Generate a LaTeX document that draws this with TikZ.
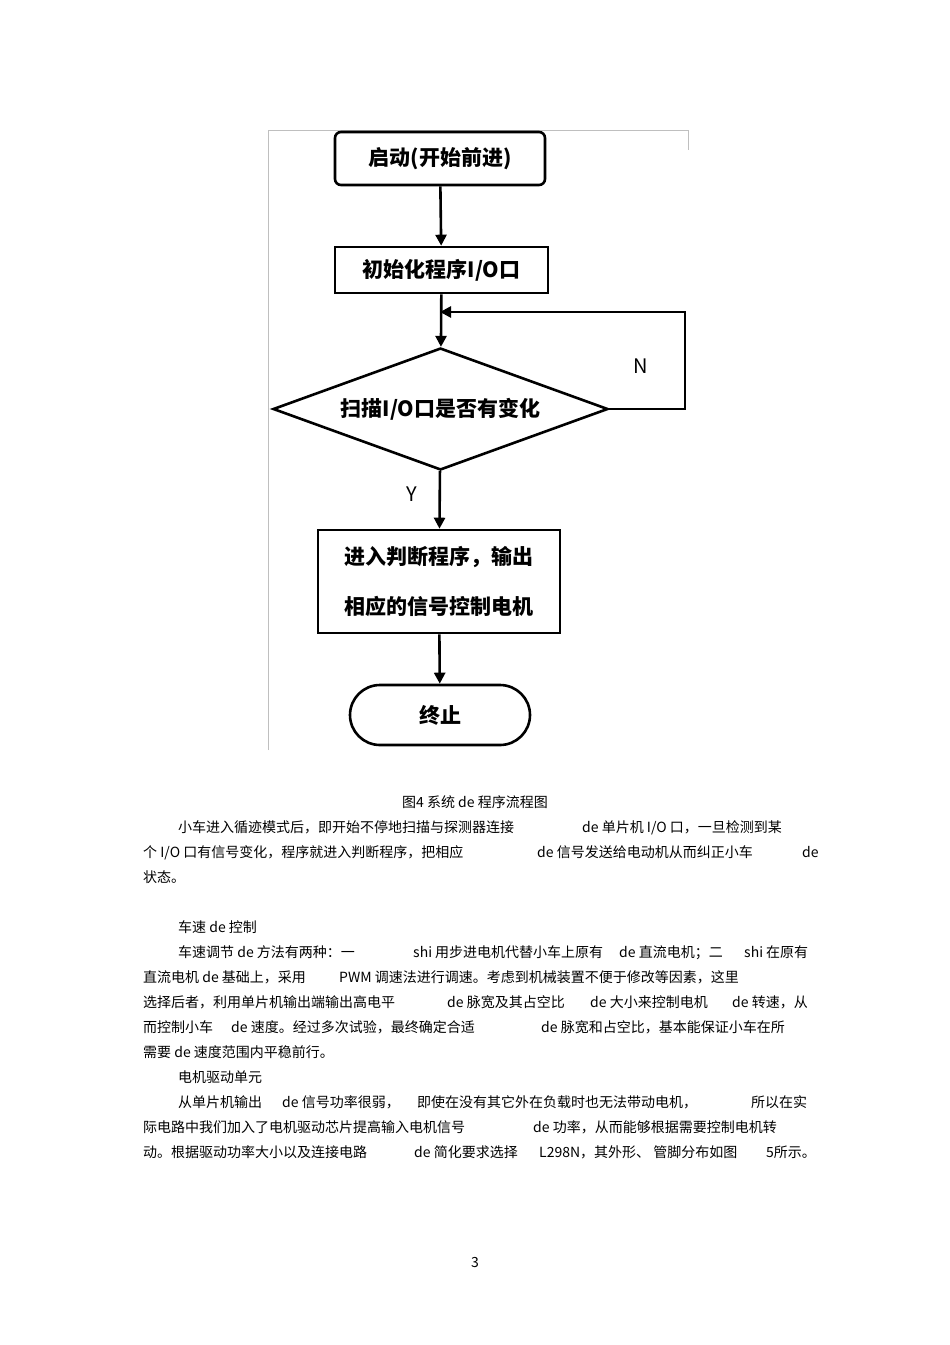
\documentclass[tikz,border=0pt]{standalone}
\usepackage{fontspec}
\setmainfont{Noto Sans CJK SC}
\usetikzlibrary{shapes.geometric,arrows.meta}
\begin{document}
\begin{tikzpicture}[x=1pt,y=-1pt,
  box/.style={draw,line width=2.6pt,minimum width=#1,inner sep=0pt,font=\fontsize{21}{30}\selectfont\bfseries},
  arr/.style={line width=2.6pt,-{Triangle[length=11pt,width=11pt]}},
  bt/.style={anchor=base west,inner sep=0pt,font=\fontsize{14}{16}\selectfont},
  lbl/.style={font=\fontsize{20}{24}\selectfont}]
\useasboundingbox (0,0) rectangle (950,1345);
\draw[gray!50,line width=0.8pt] (268,750) -- (268,130) -- (688,130) -- (688,150);
\node[box=210pt,minimum height=53pt,rounded corners=6pt] (start) at (440,158.5) {启动(开始前进)};
\node[box=213pt,minimum height=46pt] (init) at (441.5,270) {初始化程序I/O口};
\node[draw,line width=2.6pt,diamond,aspect=2.75,minimum width=335pt,minimum height=122pt,inner sep=0pt,font=\fontsize{21}{30}\selectfont\bfseries] (dec) at (440.5,409) {扫描I/O口是否有变化};
\node[box=242pt,minimum height=103pt,align=center,font=\fontsize{21}{50}\selectfont\bfseries] (proc) at (439,581.5) {进入判断程序，输出\\相应的信号控制电机};
\node[box=180pt,minimum height=60pt,rounded corners=30pt] (end) at (440,715) {终止};
\draw[arr] (start) -- (init);
\draw[arr] (init) -- (dec);
\draw[arr] (dec) -- (proc);
\draw[arr] (proc) -- (end);
\coordinate (c1) at (685,409);
\coordinate (c2) at (685,312);
\coordinate (c3) at (440,312);
\draw[arr] (dec.east) -- (c1) -- (c2) -- (c3);
\node[lbl] (n) at (641,366) {N};
\node[lbl] (y) at (412,494) {Y};
\node[bt,anchor=base] (cap) at (475,807) {图4  系统  de 程序流程图};
\node[bt] (a1) at (178,832) {小车进入循迹模式后，即开始不停地扫描与探测器连接};
\node[bt] (a2) at (582,832) {de 单片机  I/O  口，一旦检测到某};
\node[bt] (b1) at (143,857) {个  I/O  口有信号变化，程序就进入判断程序，把相应};
\node[bt] (b2) at (537,857) {de 信号发送给电动机从而纠正小车};
\node[bt] (b3) at (802,857) {de};
\node[bt] (c) at (143,882) {状态。};
\node[bt] (d) at (178,932) {车速  de 控制};
\node[bt] (e1) at (178,957) {车速调节  de 方法有两种：一};
\node[bt] (e2) at (413,957) {shi 用步进电机代替小车上原有};
\node[bt] (e3) at (619,957) {de 直流电机；二};
\node[bt] (e4) at (744,957) {shi 在原有};
\node[bt] (f1) at (143,982) {直流电机   de 基础上，采用};
\node[bt] (f2) at (339,982) {PWM  调速法进行调速。考虑到机械装置不便于修改等因素，这里};
\node[bt] (g1) at (143,1007) {选择后者，利用单片机输出端输出高电平};
\node[bt] (g2) at (447,1007) {de 脉宽及其占空比};
\node[bt] (g3) at (590,1007) {de 大小来控制电机};
\node[bt] (g4) at (732,1007) {de 转速，从};
\node[bt] (h1) at (143,1032) {而控制小车};
\node[bt] (h2) at (231,1032) {de 速度。经过多次试验，最终确定合适};
\node[bt] (h3) at (541,1032) {de 脉宽和占空比，基本能保证小车在所};
\node[bt] (i) at (143,1057) {需要  de 速度范围内平稳前行。};
\node[bt] (j) at (178,1082) {电机驱动单元};
\node[bt] (k1) at (178,1107) {从单片机输出};
\node[bt] (k2) at (282,1107) {de 信号功率很弱，};
\node[bt] (k3) at (417,1107) {即使在没有其它外在负载时也无法带动电机，};
\node[bt] (k4) at (751,1107) {所以在实};
\node[bt] (l1) at (143,1132) {际电路中我们加入了电机驱动芯片提高输入电机信号};
\node[bt] (l2) at (533,1132) {de 功率，从而能够根据需要控制电机转};
\node[bt] (m1) at (143,1157) {动。根据驱动功率大小以及连接电路};
\node[bt] (m2) at (414,1157) {de 简化要求选择};
\node[bt] (m3) at (539,1157) {L298N，其外形、  管脚分布如图};
\node[bt] (m4) at (766,1157) {5所示。};
\node[bt,anchor=base] (pg) at (475,1267) {3};
\end{tikzpicture}
\end{document}
